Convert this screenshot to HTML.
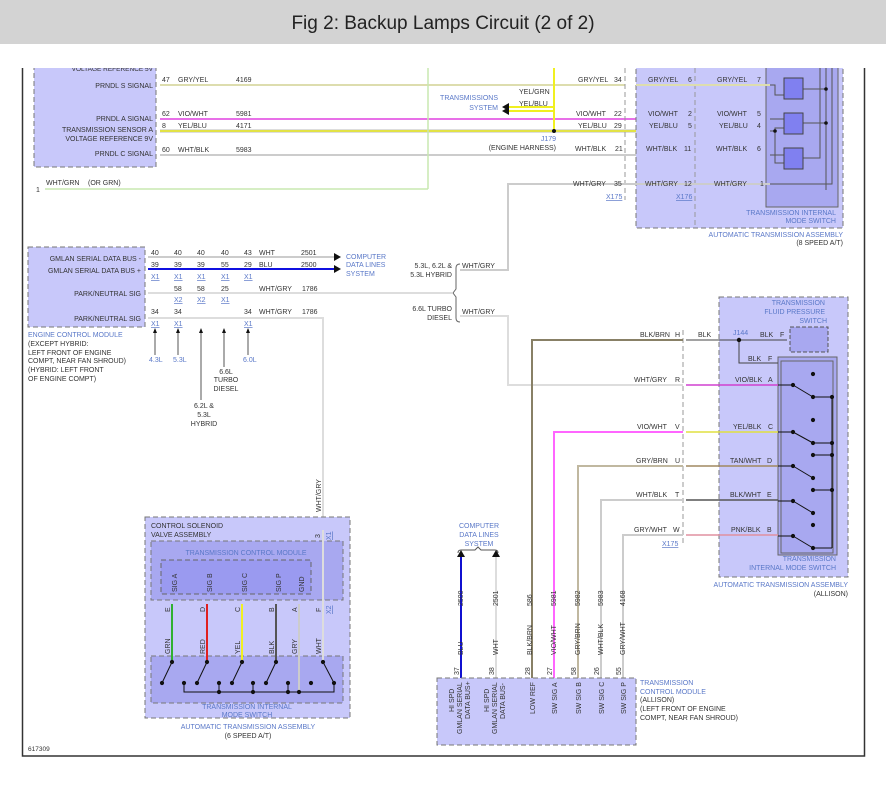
<!DOCTYPE html>
<html><head><meta charset="utf-8"><style>
body{margin:0;background:#fff;width:886px;height:783px;overflow:hidden}
svg text{font-family:"Liberation Sans",sans-serif;font-size:7px;fill:#333}
.b{fill:#5a78c8}
.u{fill:#5a78c8;text-decoration:underline}
</style></head><body>
<svg width="886" height="783" viewBox="0 0 886 783">
<rect x="0" y="0" width="886" height="44" fill="#d3d3d3"/>
<text x="443" y="29" text-anchor="middle" style="font-size:19px;fill:#222">Fig 2: Backup Lamps Circuit (2 of 2)</text>
<clipPath id="c"><rect x="22" y="68" width="843" height="690"/></clipPath>
<g clip-path="url(#c)">
<!-- ECM top -->
<rect x="34" y="60" width="122" height="107" fill="#c8c8fa" stroke="#777" stroke-dasharray="5,3"/>
<text x="153" y="71" text-anchor="end" style="font-size:6.5px">VOLTAGE REFERENCE 5V</text>
<text x="153" y="88" text-anchor="end">PRNDL S SIGNAL</text>
<text x="153" y="121" text-anchor="end">PRNDL A SIGNAL</text>
<text x="153" y="132" text-anchor="end">TRANSMISSION SENSOR A</text>
<text x="153" y="141" text-anchor="end">VOLTAGE REFERENCE 9V</text>
<text x="153" y="156" text-anchor="end">PRNDL C SIGNAL</text>
<!-- top wires -->
<line x1="160" y1="85" x2="625" y2="85" stroke="#ccc" stroke-width="2"/>
<line x1="160" y1="85" x2="625" y2="85" stroke="#eeee90" stroke-width="1"/>
<line x1="160" y1="119" x2="770" y2="119" stroke="#e040e0" stroke-width="1.5"/>
<line x1="160" y1="131" x2="770" y2="131" stroke="#bbb" stroke-width="3"/>
<line x1="160" y1="131" x2="770" y2="131" stroke="#f0f020" stroke-width="1.5"/>
<line x1="160" y1="155" x2="770" y2="155" stroke="#ccc" stroke-width="2"/>
<line x1="45" y1="189" x2="428" y2="189" stroke="#c8e8b0" stroke-width="1.5"/>
<line x1="428" y1="60" x2="428" y2="189" stroke="#c8e8b0" stroke-width="1.5"/>
<line x1="554" y1="60" x2="554" y2="111" stroke="#f0f020" stroke-width="2"/>
<line x1="508" y1="111" x2="554" y2="111" stroke="#f0f020" stroke-width="2"/>
<line x1="508" y1="107" x2="554" y2="107" stroke="#f0f020" stroke-width="0"/>
<polyline points="508,107 554,107 554,131" fill="none" stroke="#f0f020" stroke-width="2"/>
<polygon points="502,111 509,107 509,115" fill="#111"/>
<polygon points="502,107 509,103 509,111" fill="#111"/>
<circle cx="554" cy="131" r="2" fill="#111"/>
<text x="162" y="82">47</text><text x="178" y="82">GRY/YEL</text><text x="236" y="82">4169</text>
<text x="162" y="116">62</text><text x="178" y="116">VIO/WHT</text><text x="236" y="116">5981</text>
<text x="162" y="128">8</text><text x="178" y="128">YEL/BLU</text><text x="236" y="128">4171</text>
<text x="162" y="152">60</text><text x="178" y="152">WHT/BLK</text><text x="236" y="152">5983</text>
<text x="36" y="192">1</text><text x="46" y="185">WHT/GRN</text><text x="88" y="185">(OR GRN)</text>
<text x="519" y="94">YEL/GRN</text><text x="519" y="106">YEL/BLU</text>
<text x="498" y="100" text-anchor="end" class="b">TRANSMISSIONS</text>
<text x="498" y="110" text-anchor="end" class="b">SYSTEM</text>
<text x="556" y="141" text-anchor="end" class="b">J179</text>
<text x="556" y="150" text-anchor="end">(ENGINE HARNESS)</text>
<!-- 8 speed -->
<rect x="636" y="60" width="207" height="168" fill="#c8c8fa" stroke="#777" stroke-dasharray="5,3"/>
<line x1="695" y1="60" x2="695" y2="228" stroke="#999" stroke-dasharray="5,3"/>
<line x1="625" y1="60" x2="625" y2="200" stroke="#999" stroke-dasharray="5,3"/>
<rect x="766" y="60" width="72" height="147" fill="#a8a8f0" stroke="#666"/>
<line x1="636" y1="85" x2="770" y2="85" stroke="#ccc" stroke-width="2"/>
<line x1="636" y1="85" x2="770" y2="85" stroke="#eeee90"/>
<line x1="512" y1="184" x2="770" y2="184" stroke="#ccc" stroke-width="2"/>
<polyline points="460,270 508,270 508,184 512,184" fill="none" stroke="#ccc" stroke-width="2"/>
<g fill="none" stroke="#555" stroke-width="1">
<polyline points="770,184 832,184 832,60"/><polyline points="820,60 820,176 770,176" stroke="none"/>
<line x1="826" y1="60" x2="826" y2="190"/><line x1="826" y1="190" x2="770" y2="190" stroke="none"/>
<polyline points="803,89 826,89"/><polyline points="803,123 826,123"/>
<polyline points="803,158 820,158 820,60"/>
<polyline points="770,85 775,85 775,95 784,95"/><polyline points="775,85 775,80 784,80" stroke="none"/>
<polyline points="770,119 784,119"/><polyline points="770,131 775,131 775,128 784,128"/>
<polyline points="775,131 775,163 784,163"/><polyline points="770,155 784,155"/>
</g>
<circle cx="826" cy="89" r="1.8" fill="#111"/><circle cx="826" cy="123" r="1.8" fill="#111"/><circle cx="775" cy="131" r="1.8" fill="#111"/>
<rect x="784" y="78" width="19" height="21" fill="#8080f0" stroke="#444"/>
<rect x="784" y="113" width="19" height="21" fill="#8080f0" stroke="#444"/>
<rect x="784" y="148" width="19" height="21" fill="#8080f0" stroke="#444"/>
<g style="font-size:7px">
<text x="578" y="82">GRY/YEL</text><text x="614" y="82">34</text><text x="648" y="82">GRY/YEL</text><text x="688" y="82">6</text><text x="717" y="82">GRY/YEL</text><text x="757" y="82">7</text>
<text x="576" y="116">VIO/WHT</text><text x="614" y="116">22</text><text x="648" y="116">VIO/WHT</text><text x="688" y="116">2</text><text x="717" y="116">VIO/WHT</text><text x="757" y="116">5</text>
<text x="578" y="128">YEL/BLU</text><text x="614" y="128">29</text><text x="649" y="128">YEL/BLU</text><text x="688" y="128">5</text><text x="719" y="128">YEL/BLU</text><text x="757" y="128">4</text>
<text x="575" y="151">WHT/BLK</text><text x="615" y="151">21</text><text x="646" y="151">WHT/BLK</text><text x="684" y="151">11</text><text x="716" y="151">WHT/BLK</text><text x="757" y="151">6</text>
<text x="573" y="186">WHT/GRY</text><text x="614" y="186">35</text><text x="645" y="186">WHT/GRY</text><text x="684" y="186">12</text><text x="714" y="186">WHT/GRY</text><text x="760" y="186">1</text>
</g>
<text x="606" y="199" class="u">X175</text><text x="676" y="199" class="u">X176</text>
<text x="836" y="215" text-anchor="end" class="b">TRANSMISSION INTERNAL</text>
<text x="836" y="223" text-anchor="end" class="b">MODE SWITCH</text>
<text x="843" y="237" text-anchor="end" class="b">AUTOMATIC TRANSMISSION ASSEMBLY</text>
<text x="843" y="245" text-anchor="end">(8 SPEED A/T)</text>
<!-- ECM 2 -->
<rect x="28" y="247" width="117" height="80" fill="#c8c8fa" stroke="#777" stroke-dasharray="5,3"/>
<text x="141" y="261" text-anchor="end">GMLAN SERIAL DATA BUS -</text>
<text x="141" y="273" text-anchor="end">GMLAN SERIAL DATA BUS +</text>
<text x="141" y="296" text-anchor="end">PARK/NEUTRAL SIG</text>
<text x="141" y="321" text-anchor="end">PARK/NEUTRAL SIG</text>
<text x="28" y="337" class="b">ENGINE CONTROL MODULE</text>
<text x="28" y="346">(EXCEPT HYBRID:</text><text x="28" y="355">LEFT FRONT OF ENGINE</text>
<text x="28" y="363">COMPT, NEAR FAN SHROUD)</text><text x="28" y="372">(HYBRID: LEFT FRONT</text>
<text x="28" y="381">OF ENGINE COMPT)</text>
<line x1="148" y1="257" x2="334" y2="257" stroke="#ccc" stroke-width="2"/>
<line x1="148" y1="269" x2="334" y2="269" stroke="#1010e0" stroke-width="2"/>
<polygon points="341,257 334,253 334,261" fill="#111"/><polygon points="341,269 334,265 334,273" fill="#111"/>
<line x1="148" y1="293" x2="452" y2="293" stroke="#ddd" stroke-width="2"/>
<polyline points="148,318 323,318 323,532" fill="none" stroke="#ddd" stroke-width="2"/>
<path d="M460,264 q-4,0 -4,4 v21 l-3,4 l3,4 v21 q0,4 4,4" fill="none" stroke="#666"/>
<g>
<text x="151" y="255">40</text><text x="174" y="255">40</text><text x="197" y="255">40</text><text x="221" y="255">40</text><text x="244" y="255">43</text><text x="259" y="255">WHT</text><text x="301" y="255">2501</text>
<text x="151" y="267">39</text><text x="174" y="267">39</text><text x="197" y="267">39</text><text x="221" y="267">55</text><text x="244" y="267">29</text><text x="259" y="267">BLU</text><text x="301" y="267">2500</text>
<text x="151" y="279" class="u">X1</text><text x="174" y="279" class="u">X1</text><text x="197" y="279" class="u">X1</text><text x="221" y="279" class="u">X1</text><text x="244" y="279" class="u">X1</text>
<text x="174" y="291">58</text><text x="197" y="291">58</text><text x="221" y="291">25</text><text x="259" y="291">WHT/GRY</text><text x="302" y="291">1786</text>
<text x="174" y="302" class="u">X2</text><text x="197" y="302" class="u">X2</text><text x="221" y="302" class="u">X1</text>
<text x="151" y="314">34</text><text x="174" y="314">34</text><text x="244" y="314">34</text><text x="259" y="314">WHT/GRY</text><text x="302" y="314">1786</text>
<text x="151" y="326" class="u">X1</text><text x="174" y="326" class="u">X1</text><text x="244" y="326" class="u">X1</text>
</g>
<g stroke="#555"><line x1="155" y1="332" x2="155" y2="355"/><line x1="178" y1="332" x2="178" y2="355"/><line x1="201" y1="332" x2="201" y2="400"/><line x1="224" y1="332" x2="224" y2="367"/><line x1="248" y1="332" x2="248" y2="355"/></g>
<g fill="#111"><polygon points="155,328 153,333 157,333"/><polygon points="178,328 176,333 180,333"/><polygon points="201,328 199,333 203,333"/><polygon points="224,328 222,333 226,333"/><polygon points="248,328 246,333 250,333"/></g>
<text x="149" y="362" class="b">4.3L</text><text x="173" y="362" class="b">5.3L</text><text x="243" y="362" class="b">6.0L</text>
<text x="226" y="374" text-anchor="middle">6.6L</text><text x="226" y="382" text-anchor="middle">TURBO</text><text x="226" y="391" text-anchor="middle">DIESEL</text>
<text x="204" y="408" text-anchor="middle">6.2L &amp;</text><text x="204" y="417" text-anchor="middle">5.3L</text><text x="204" y="426" text-anchor="middle">HYBRID</text>
<text x="346" y="259" class="b">COMPUTER</text><text x="346" y="267" class="b">DATA LINES</text><text x="346" y="276" class="b">SYSTEM</text>
<text x="452" y="268" text-anchor="end">5.3L, 6.2L &amp;</text><text x="452" y="277" text-anchor="end">5.3L HYBRID</text>
<text x="452" y="311" text-anchor="end">6.6L TURBO</text><text x="452" y="320" text-anchor="end">DIESEL</text>
<text x="462" y="268">WHT/GRY</text><text x="462" y="314">WHT/GRY</text>
<!-- Allison -->
<polyline points="460,316 508,316 508,385 683,385" fill="none" stroke="#ddd" stroke-width="2"/>
<rect x="719" y="297" width="129" height="280" fill="#c8c8fa" stroke="#777" stroke-dasharray="5,3"/>
<line x1="683" y1="330" x2="683" y2="545" stroke="#999" stroke-dasharray="5,3"/>
<rect x="790" y="327" width="38" height="25" fill="#a8a8f0" stroke="#555" stroke-dasharray="4,2"/>
<rect x="778" y="357" width="59" height="198" fill="#a8a8f0" stroke="#666"/>
<rect x="781" y="361" width="52" height="192" fill="none" stroke="#666"/>
<polyline points="532,700 532,340 683,340" fill="none" stroke="#888066" stroke-width="2"/>
<polyline points="554,680 554,432 683,432" fill="none" stroke="#ff66ff" stroke-width="2"/>
<polyline points="578,680 578,466 683,466" fill="none" stroke="#c0b8a0" stroke-width="2"/>
<polyline points="601,680 601,500 683,500" fill="none" stroke="#ccc" stroke-width="2"/>
<polyline points="623,680 623,535 683,535" fill="none" stroke="#ccc" stroke-width="2"/>
<line x1="686" y1="340" x2="787" y2="340" stroke="#444"/>
<polyline points="739,340 739,363 778,363" fill="none" stroke="#444"/>
<circle cx="739" cy="340" r="2.2" fill="#111"/>
<line x1="686" y1="385" x2="778" y2="385" stroke="#d040d0" stroke-width="1.5"/>
<line x1="686" y1="432" x2="778" y2="432" stroke="#e0e040" stroke-width="1.5"/>
<line x1="686" y1="466" x2="778" y2="466" stroke="#a08860" stroke-width="1.5"/>
<line x1="686" y1="500" x2="778" y2="500" stroke="#555" stroke-width="1.5"/>
<line x1="686" y1="535" x2="778" y2="535" stroke="#e090a0" stroke-width="1.5"/>
<g stroke="#111" fill="#111">
<line x1="778" y1="385" x2="793" y2="385"/><line x1="793" y1="385" x2="813" y2="397"/><line x1="813" y1="397" x2="832" y2="397"/>
<line x1="778" y1="432" x2="793" y2="432"/><line x1="793" y1="432" x2="813" y2="443"/><line x1="813" y1="443" x2="832" y2="443"/>
<line x1="813" y1="455" x2="832" y2="455"/>
<line x1="778" y1="466" x2="793" y2="466"/><line x1="793" y1="466" x2="813" y2="478"/>
<line x1="813" y1="490" x2="832" y2="490"/>
<line x1="778" y1="501" x2="793" y2="501"/><line x1="793" y1="501" x2="813" y2="513"/>
<line x1="778" y1="536" x2="793" y2="536"/><line x1="793" y1="536" x2="813" y2="548"/><line x1="813" y1="548" x2="832" y2="548"/>
<line x1="832" y1="397" x2="832" y2="548"/>
<circle cx="813" cy="374" r="1.6"/><circle cx="793" cy="385" r="1.6"/><circle cx="813" cy="397" r="1.6"/><circle cx="832" cy="397" r="1.6"/>
<circle cx="813" cy="420" r="1.6"/><circle cx="793" cy="432" r="1.6"/><circle cx="813" cy="443" r="1.6"/><circle cx="832" cy="443" r="1.6"/>
<circle cx="813" cy="455" r="1.6"/><circle cx="832" cy="455" r="1.6"/><circle cx="793" cy="466" r="1.6"/><circle cx="813" cy="478" r="1.6"/>
<circle cx="813" cy="490" r="1.6"/><circle cx="832" cy="490" r="1.6"/><circle cx="793" cy="501" r="1.6"/><circle cx="813" cy="513" r="1.6"/>
<circle cx="813" cy="525" r="1.6"/><circle cx="793" cy="536" r="1.6"/><circle cx="813" cy="548" r="1.6"/>
</g>
<text x="825" y="305" text-anchor="end" class="b">TRANSMISSION</text><text x="825" y="314" text-anchor="end" class="b">FLUID PRESSURE</text><text x="827" y="323" text-anchor="end" class="b">SWITCH</text>
<text x="733" y="335" class="b">J144</text>
<text x="640" y="337">BLK/BRN</text><text x="675" y="337">H</text><text x="698" y="337">BLK</text><text x="760" y="337">BLK</text><text x="780" y="337">F</text>
<text x="748" y="361">BLK</text><text x="768" y="361">F</text>
<text x="634" y="382">WHT/GRY</text><text x="675" y="382">R</text><text x="735" y="382">VIO/BLK</text><text x="768" y="382">A</text>
<text x="637" y="429">VIO/WHT</text><text x="675" y="429">V</text><text x="733" y="429">YEL/BLK</text><text x="768" y="429">C</text>
<text x="636" y="463">GRY/BRN</text><text x="675" y="463">U</text><text x="730" y="463">TAN/WHT</text><text x="767" y="463">D</text>
<text x="636" y="497">WHT/BLK</text><text x="675" y="497">T</text><text x="730" y="497">BLK/WHT</text><text x="767" y="497">E</text>
<text x="634" y="532">GRY/WHT</text><text x="673" y="532">W</text><text x="731" y="532">PNK/BLK</text><text x="767" y="532">B</text>
<text x="662" y="546" class="u">X175</text>
<text x="836" y="561" text-anchor="end" class="b">TRANSMISSION</text><text x="836" y="570" text-anchor="end" class="b">INTERNAL MODE SWITCH</text>
<text x="848" y="587" text-anchor="end" class="b">AUTOMATIC TRANSMISSION ASSEMBLY</text><text x="848" y="596" text-anchor="end">(ALLISON)</text>
<!-- 6 speed -->
<rect x="145" y="517" width="205" height="201" fill="#c8c8fa" stroke="#777" stroke-dasharray="5,3"/>
<rect x="151" y="541" width="192" height="59" fill="#a8a8f0" stroke="#777" stroke-dasharray="5,3"/>
<rect x="161" y="560" width="150" height="34" fill="#9a9af0" stroke="#666" stroke-dasharray="5,3"/>
<rect x="151" y="656" width="192" height="47" fill="#a8a8f0" stroke="#777" stroke-dasharray="5,3"/>
<text x="151" y="528">CONTROL SOLENOID</text><text x="151" y="537">VALVE ASSEMBLY</text>
<text x="246" y="555" text-anchor="middle" class="b">TRANSMISSION CONTROL MODULE</text>
<line x1="172" y1="604" x2="172" y2="662" stroke="#30b030" stroke-width="2"/>
<line x1="207" y1="604" x2="207" y2="662" stroke="#e02020" stroke-width="2"/>
<line x1="242" y1="604" x2="242" y2="662" stroke="#f0f020" stroke-width="2"/>
<line x1="276" y1="604" x2="276" y2="662" stroke="#555" stroke-width="2"/>
<line x1="299" y1="604" x2="299" y2="692" stroke="#ccc" stroke-width="2"/>
<line x1="323" y1="530" x2="323" y2="662" stroke="#ddd" stroke-width="2"/>
<g stroke="#111" fill="#111">
<line x1="172" y1="662" x2="162" y2="683"/><line x1="207" y1="662" x2="197" y2="683"/><line x1="242" y1="662" x2="232" y2="683"/><line x1="276" y1="662" x2="266" y2="683"/><line x1="323" y1="662" x2="334" y2="683"/>
<polyline points="184,683 184,692 334,692 334,683" fill="none"/>
<line x1="219" y1="683" x2="219" y2="692"/><line x1="253" y1="683" x2="253" y2="692"/><line x1="288" y1="683" x2="288" y2="692"/>
<circle cx="172" cy="662" r="1.6"/><circle cx="162" cy="683" r="1.6"/><circle cx="184" cy="683" r="1.6"/>
<circle cx="207" cy="662" r="1.6"/><circle cx="197" cy="683" r="1.6"/><circle cx="219" cy="683" r="1.6"/>
<circle cx="242" cy="662" r="1.6"/><circle cx="232" cy="683" r="1.6"/><circle cx="253" cy="683" r="1.6"/>
<circle cx="276" cy="662" r="1.6"/><circle cx="266" cy="683" r="1.6"/><circle cx="288" cy="683" r="1.6"/>
<circle cx="323" cy="662" r="1.6"/><circle cx="311" cy="683" r="1.6"/><circle cx="334" cy="683" r="1.6"/>
<circle cx="219" cy="692" r="1.6"/><circle cx="253" cy="692" r="1.6"/><circle cx="288" cy="692" r="1.6"/><circle cx="299" cy="692" r="1.6"/>
</g>
<g style="font-size:6.5px">
<text transform="translate(177,592) rotate(-90)">SIG A</text><text transform="translate(212,592) rotate(-90)">SIG B</text>
<text transform="translate(247,592) rotate(-90)">SIG C</text><text transform="translate(281,592) rotate(-90)">SIG P</text>
<text transform="translate(304,592) rotate(-90)">GND</text>
<text transform="translate(170,612) rotate(-90)">E</text><text transform="translate(205,612) rotate(-90)">D</text><text transform="translate(240,612) rotate(-90)">C</text><text transform="translate(274,612) rotate(-90)">B</text><text transform="translate(297,612) rotate(-90)">A</text><text transform="translate(321,612) rotate(-90)">F</text>
<text transform="translate(331,614) rotate(-90)" class="u">X2</text>
<text transform="translate(320,538) rotate(-90)">3</text><text transform="translate(331,540) rotate(-90)" class="u">X1</text>
<text transform="translate(170,654) rotate(-90)">GRN</text><text transform="translate(205,654) rotate(-90)">RED</text><text transform="translate(240,654) rotate(-90)">YEL</text><text transform="translate(274,654) rotate(-90)">BLK</text><text transform="translate(297,654) rotate(-90)">GRY</text><text transform="translate(321,654) rotate(-90)">WHT</text>
<text transform="translate(321,512) rotate(-90)">WHT/GRY</text>
</g>
<text x="247" y="709" text-anchor="middle" class="b">TRANSMISSION INTERNAL</text><text x="247" y="717" text-anchor="middle" class="b">MODE SWITCH</text>
<text x="248" y="729" text-anchor="middle" class="b">AUTOMATIC TRANSMISSION ASSEMBLY</text><text x="248" y="738" text-anchor="middle">(6 SPEED A/T)</text>
<!-- Allison TCM -->
<text x="479" y="528" text-anchor="middle" class="b">COMPUTER</text><text x="479" y="537" text-anchor="middle" class="b">DATA LINES</text><text x="479" y="546" text-anchor="middle" class="b">SYSTEM</text>
<path d="M458,553 q0,-3 3,-3 h14 l3,-3 l3,3 h14 q3,0 3,3" fill="none" stroke="#555"/>
<line x1="461" y1="556" x2="461" y2="678" stroke="#1010d0" stroke-width="2"/>
<line x1="496" y1="556" x2="496" y2="678" stroke="#ddd" stroke-width="2"/>
<polygon points="461,550 457,557 465,557" fill="#111"/><polygon points="496,550 492,557 500,557" fill="#111"/>
<rect x="437" y="678" width="199" height="67" fill="#c8c8fa" stroke="#777" stroke-dasharray="5,3"/>
<g style="font-size:6.5px">
<text transform="translate(463,606) rotate(-90)">2500</text><text transform="translate(498,606) rotate(-90)">2501</text><text transform="translate(532,606) rotate(-90)">586</text><text transform="translate(556,606) rotate(-90)">5981</text><text transform="translate(580,606) rotate(-90)">5982</text><text transform="translate(603,606) rotate(-90)">5983</text><text transform="translate(625,606) rotate(-90)">4168</text>
<text transform="translate(463,655) rotate(-90)">BLU</text><text transform="translate(498,655) rotate(-90)">WHT</text><text transform="translate(532,655) rotate(-90)">BLK/BRN</text><text transform="translate(556,655) rotate(-90)">VIO/WHT</text><text transform="translate(580,655) rotate(-90)">GRY/BRN</text><text transform="translate(603,655) rotate(-90)">WHT/BLK</text><text transform="translate(625,655) rotate(-90)">GRY/WHT</text>
<text transform="translate(459,675) rotate(-90)">37</text><text transform="translate(494,675) rotate(-90)">38</text><text transform="translate(530,675) rotate(-90)">28</text><text transform="translate(552,675) rotate(-90)">27</text><text transform="translate(576,675) rotate(-90)">58</text><text transform="translate(599,675) rotate(-90)">26</text><text transform="translate(621,675) rotate(-90)">55</text>
<text transform="translate(454,712) rotate(-90)">HI SPD</text><text transform="translate(462,734) rotate(-90)">GMLAN SERIAL</text><text transform="translate(470,719) rotate(-90)">DATA BUS+</text>
<text transform="translate(489,712) rotate(-90)">HI SPD</text><text transform="translate(497,734) rotate(-90)">GMLAN SERIAL</text><text transform="translate(505,719) rotate(-90)">DATA BUS-</text>
<text transform="translate(535,714) rotate(-90)">LOW REF</text><text transform="translate(557,714) rotate(-90)">SW SIG A</text><text transform="translate(581,714) rotate(-90)">SW SIG B</text><text transform="translate(604,714) rotate(-90)">SW SIG C</text><text transform="translate(626,714) rotate(-90)">SW SIG P</text>
</g>
<text x="640" y="685" class="b">TRANSMISSION</text><text x="640" y="694" class="b">CONTROL MODULE</text>
<text x="640" y="702">(ALLISON)</text><text x="640" y="711">(LEFT FRONT OF ENGINE</text><text x="640" y="720">COMPT, NEAR FAN SHROUD)</text>
<text x="28" y="751" style="font-size:6.5px">617309</text>
</g>
<rect x="22.5" y="60" width="842" height="696" fill="none" stroke="#333" stroke-width="1.5"/>
<rect x="0" y="44" width="886" height="24" fill="#fff"/>
</svg>
</body></html>
